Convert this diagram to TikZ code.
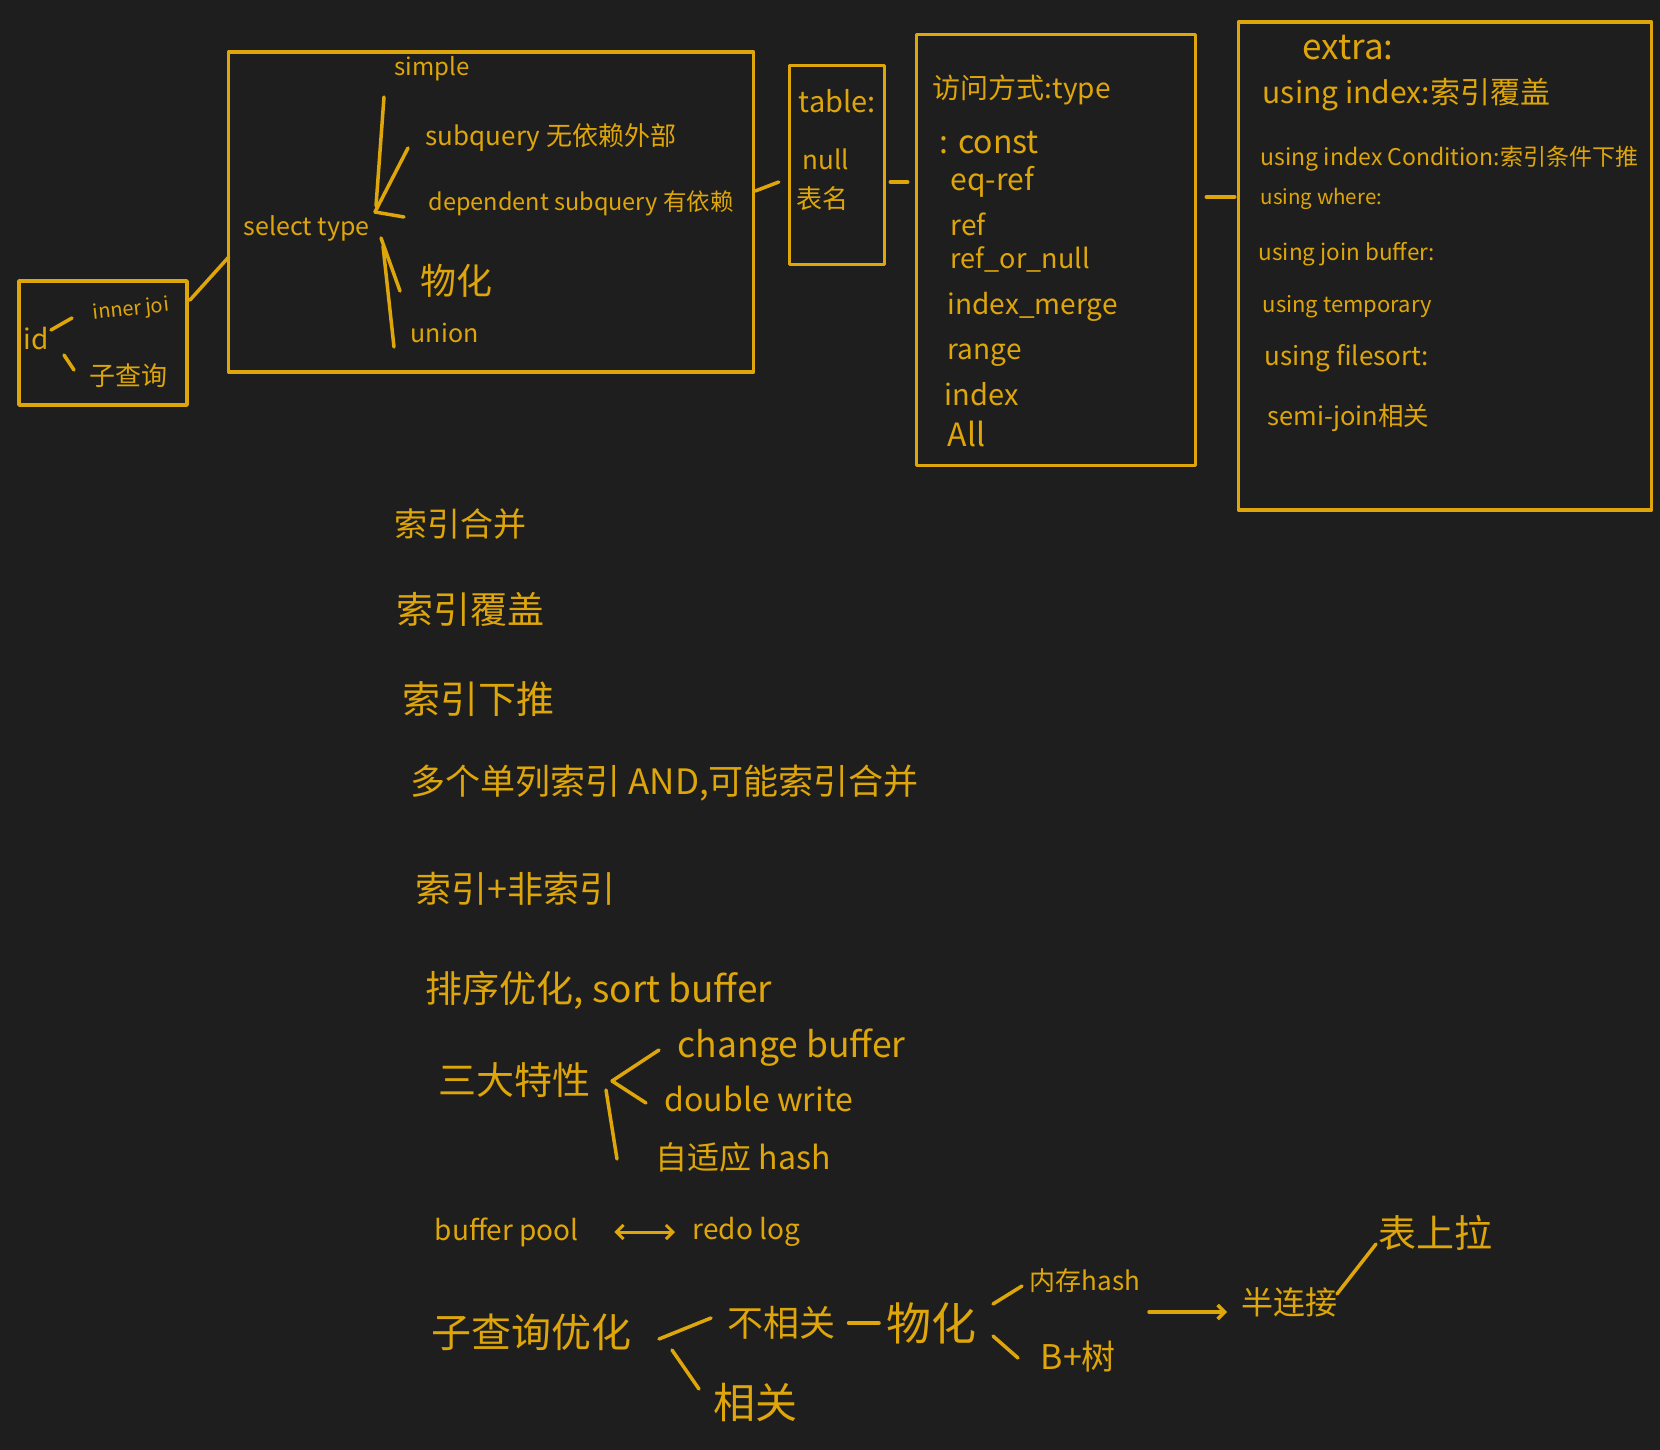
\documentclass[tikz,border=0pt]{standalone}
\usepackage{fontspec}
\newfontfamily\cjk{Noto Sans CJK SC}
\usetikzlibrary{arrows.meta,calc}
\definecolor{ink}{RGB}{222,166,10}
\definecolor{board}{RGB}{30,30,30}

\begin{document}
\begin{tikzpicture}[
            x=1pt, y=-1pt, % one unit is one pixel of the sketch
            color=ink,
            line width=3.5pt, line cap=round, line join=round,
            hw/.style={font=\cjk\fontsize{#1}{#1}\selectfont, anchor=west, inner sep=1pt},
            frame/.style={draw, rectangle, inner sep=0pt},
            barb/.style={-{Straight Barb[length=7pt,width=14pt]}}
            ]
            \useasboundingbox (0,0) rectangle (1660,1450);
            \fill[board] (0,0) rectangle (1660,1450);

            % boxes
            \node[frame, minimum width=168pt, minimum height=124pt] (idbox) at (103,343) {};
            \node[frame, minimum width=525pt, minimum height=320pt] (selbox) at (491,212) {};
            \node[frame, minimum width=95pt, minimum height=199pt] (tabbox) at (837,165) {};
            \node[frame, minimum width=279pt, minimum height=431pt] (typebox) at (1056,250) {};
            \node[frame, minimum width=413pt, minimum height=488pt] (extrabox) at (1445,266) {};

            \draw ($(idbox.north east)+(1,21)$) -- ($(selbox.west)+(2,45)$);
            \draw ($(selbox.east)+(0,-21)$) -- ($(tabbox.west)+(-9,17)$);
            \draw ($(tabbox.east)+(4,17)$) -- ($(typebox.west)+(-7,-68)$);
            \draw ($(typebox.east)+(9,-53)$) -- ($(extrabox.west)+(-2,-69)$);

            % id
            \node[hw=28] (id) at (21,339) {id};
            \node[hw=20, anchor=center, rotate=6] (innerj) at (131,310) {inner joi};
            \node[hw=26] (zcx) at (87,376) {子查询};
            \draw ($(id.west)+(30,-9)$) -- ($(innerj)+(-59,8)$);
            \draw ($(id.west)+(43,16)$) -- ($(zcx.west)+(-13,-6)$);

            % select type
            \node[hw=25] (seltype) at (241,228) {select type};
            \coordinate (selfork) at (375,212);
            \node[hw=24] (simple) at (392,69) {simple};
            \node[hw=26] (subq) at (423,138) {subquery 无依赖外部};
            \node[hw=23.5] (dep) at (426,203) {dependent subquery 有依赖};
            \node[hw=36] (wuhua) at (418,281) {物化};
            \node[hw=25] (union) at (408,333) {union};
            \draw ($(selfork)+(1,-6)$) -- ($(simple.west)+(-8,28)$);
            \draw (selfork) -- ($(subq.west)+(-15,10)$);
            \draw (selfork) -- ($(dep.west)+(-22,14)$);
            \draw ($(selfork)+(6,26)$) -- ($(wuhua.west)+(-18,10)$);
            \draw ($(selfork)+(8,34)$) -- ($(union.west)+(-14,14)$);

            % table
            \node[hw=29] (tabl) at (796,101) {table:};
            \node[hw=26] (tnull) at (800,159) {null};
            \node[hw=26] (tname) at (794,199) {表名};

            % type
            \node[hw=28] (acc) at (930,90) {访问方式:type};
            \node[hw=32] (tconst) at (937,143) {: const};
            \node[hw=30] (eqref) at (948,182) {eq-ref};
            \node[hw=28] (tref) at (948,224) {ref};
            \node[hw=27] (refnull) at (948,259) {ref\_or\_null};
            \node[hw=28] (imerge) at (945,307) {index\_merge};
            \node[hw=28] (trange) at (945,355) {range};
            \node[hw=29] (tindex) at (942,394) {index};
            \node[hw=32] (tall) at (945,434) {All};

            % extra
            \node[hw=35] (extra) at (1300,48) {extra:};
            \node[hw=30] (uidx) at (1260,95) {using index:索引覆盖};
            \node[hw=23] (uicond) at (1258,159) {using index Condition:索引条件下推};
            \node[hw=20.5] (uwhere) at (1258,199) {using where:};
            \node[hw=22.5] (ujoin) at (1256,254) {using join buffer:};
            \node[hw=22] (utemp) at (1260,307) {using temporary};
            \node[hw=26] (ufsort) at (1262,358) {using filesort:};
            \node[hw=25.5] (semij) at (1265,418) {semi-join相关};

            % notes
            \node[hw=33] (n1) at (392,524) {索引合并};
            \node[hw=37] (n2) at (394,609) {索引覆盖};
            \node[hw=38] (n3) at (400,699) {索引下推};
            \node[hw=35] (n4) at (408,783) {多个单列索引 AND,可能索引合并};
            \node[hw=36] (n5) at (413,889) {索引+非索引};
            \node[hw=37] (n6) at (423,990) {排序优化, sort buffer};

            % three features
            \node[hw=38] (sdtx) at (436,1080) {三大特性};
            \coordinate (sdfork) at (612,1081);
            \node[hw=35.5] (chg) at (675,1048) {change buffer};
            \node[hw=32] (dbl) at (662,1099) {double write};
            \node[hw=32] (zsy) at (653,1157) {自适应 hash};
            \draw (sdfork) -- ($(chg.west)+(-16,2)$);
            \draw (sdfork) -- ($(dbl.west)+(-16,4)$);
            \draw ($(sdfork)+(-6,9)$) -- ($(zsy.west)+(-36,2)$);

            % buffer pool
            \node[hw=28] (bpool) at (432,1232) {buffer pool};
            \node[hw=28] (redolog) at (690,1232) {redo log};
            \draw[{Straight Barb[length=7pt,width=14pt]}-{Straight Barb[length=7pt,width=14pt]},
            line width=3pt, shorten <=33pt, shorten >=15pt] (bpool.east) -- (redolog.west);

            % subquery optimisation
            \node[hw=40] (zcyh) at (429,1332) {子查询优化};
            \coordinate (zcfork) at (659,1339);
            \node[hw=36] (bxg) at (725,1323) {不相关};
            \node[hw=42] (xg) at (711,1403) {相关};
            \node[hw=45] (wh) at (884,1323) {物化};
            \draw (zcfork) -- ($(bxg.west)+(-14,-5)$);
            \draw ($(zcfork)+(13,11)$) -- ($(xg.west)+(-12,-14)$);
            \draw[shorten <=10pt, shorten >=5pt] (bxg.east) -- (wh.west);
            \coordinate (whfork) at (993,1320);
            \node[hw=26] (ncash) at (1027,1281) {内存hash};
            \node[hw=34] (bps) at (1038,1357) {B+树};
            \draw ($(whfork)+(0,-16)$) -- ($(ncash.west)+(-5,5)$);
            \draw ($(whfork)+(0,16)$) -- ($(bps.west)+(-20,1)$);
            \coordinate (semistart) at (1149,1312);
            \node[hw=32] (blj) at (1239,1302) {半连接};
            \draw[barb, shorten >=12pt] (semistart) -- (semistart -| blj.west);
            \node[hw=38] (bsl) at (1376,1233) {表上拉};
            \draw ($(blj.west)+(98,-8)$) -- ($(bsl.west)+(0,11)$);
        \end{tikzpicture}
\end{document}
